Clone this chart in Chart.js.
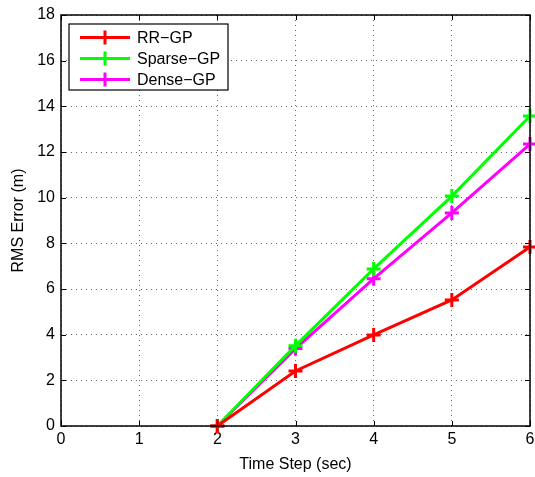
<!DOCTYPE html>
<html><head><meta charset="utf-8">
<script src="https://cdn.jsdelivr.net/npm/chart.js@4"></script>
<style>html,body{margin:0;padding:0;background:#fff}#wrap{width:535px;height:477px}</style>
</head><body><div id="wrap"><canvas id="c" width="535" height="477"></canvas></div>
<script>
const timeSteps = [2, 3, 4, 5, 6];
const rrGP = [0, 2.41, 3.99, 5.52, 7.84];
const sparseGP = [0, 3.52, 6.88, 10.07, 13.58];
const denseGP = [0, 3.39, 6.45, 9.33, 12.35];
const xTicks = [0, 1, 2, 3, 4, 5, 6];
const yTicks = [0, 2, 4, 6, 8, 10, 12, 14, 16, 18];
const seriesNames = ['RR\u2212GP', 'Sparse\u2212GP', 'Dense\u2212GP'];
const seriesColors = ['#ff0000', '#00ff00', '#ff00ff'];
const FONT = 'Liberation Sans, Arial, sans-serif';

function pts(ys){ return timeSteps.map((x,i)=>({x:x, y:ys[i]})); }
const allSeries = [rrGP, sparseGP, denseGP];
const datasets = allSeries.map((s,i)=>({
  label: seriesNames[i], data: pts(s), borderColor: seriesColors[i], backgroundColor: seriesColors[i],
  borderWidth: 3, pointStyle: 'cross', pointRadius: 7, pointBorderWidth: 3, pointHoverRadius: 7,
  tension: 0, fill: false, clip: 10
}));

const frame = {
  id: 'frame',
  afterDatasetsDraw(chart){
    const {ctx, chartArea:a, scales:{x, y}} = chart;
    ctx.save();
    ctx.strokeStyle = '#000'; ctx.lineWidth = 1;
    ctx.beginPath();
    const tl = 5;
    xTicks.forEach(v=>{ const px = Math.round(x.getPixelForValue(v))+0.5;
      ctx.moveTo(px, a.bottom); ctx.lineTo(px, a.bottom - tl);
      ctx.moveTo(px, a.top); ctx.lineTo(px, a.top + tl); });
    yTicks.forEach(v=>{ const py = Math.round(y.getPixelForValue(v))+0.5;
      ctx.moveTo(a.left, py); ctx.lineTo(a.left + tl, py);
      ctx.moveTo(a.right, py); ctx.lineTo(a.right - tl, py); });
    ctx.stroke();
    ctx.lineWidth = 1.5;
    ctx.strokeRect(a.left, a.top, a.right - a.left, a.bottom - a.top);
    // legend
    const lx = a.left + 8, ly = a.top + 9, lw = 159, lh = 66;
    ctx.fillStyle = '#fff'; ctx.fillRect(lx, ly, lw, lh);
    ctx.lineWidth = 1.2; ctx.strokeStyle = '#000'; ctx.strokeRect(lx, ly, lw, lh);
    ctx.font = '16px ' + FONT; ctx.textBaseline = 'middle'; ctx.textAlign = 'left';
    seriesNames.forEach((n,i)=>{
      const yy = ly + 13.5 + i*21;
      ctx.strokeStyle = seriesColors[i]; ctx.lineWidth = 3;
      ctx.beginPath(); ctx.moveTo(lx + 11, yy); ctx.lineTo(lx + 61, yy);
      ctx.moveTo(lx + 36, yy - 7); ctx.lineTo(lx + 36, yy + 7); ctx.stroke();
      ctx.fillStyle = '#000'; ctx.fillText(n, lx + 68, yy + 1);
    });
    ctx.restore();
  }
};

new Chart(document.getElementById('c'), {
  type: 'line',
  data: { datasets },
  options: {
    responsive: false, animation: false, devicePixelRatio: 1,
    layout: { autoPadding: false, padding: { left: 0, top: 15, right: 5, bottom: 0 } },
    plugins: { legend: { display: false }, tooltip: { enabled: false } },
    scales: {
      x: { type: 'linear', min: 0, max: 6,
        afterBuildTicks(s){ s.ticks = xTicks.map(v=>({value:v})); },
        afterFit(s){ s.height = 51; s.paddingLeft = 0; s.paddingRight = 0; },
        grid: { color: '#666', lineWidth: 1, drawTicks: false },
        border: { display: false, dash: [1, 4] },
        ticks: { color: '#000', font: { family: FONT, size: 16 }, padding: 4, maxRotation: 0 },
        title: { display: true, text: 'Time Step (sec)', color: '#000', font: { family: FONT, size: 16 }, padding: { top: 0, bottom: 3 } }
      },
      y: { type: 'linear', min: 0, max: 18,
        afterBuildTicks(s){ s.ticks = yTicks.map(v=>({value:v})); },
        afterFit(s){ s.width = 61; s.paddingTop = 0; s.paddingBottom = 0; },
        grid: { color: '#666', lineWidth: 1, drawTicks: false },
        border: { display: false, dash: [1, 4] },
        ticks: { color: '#000', font: { family: FONT, size: 16 }, padding: 6 },
        title: { display: true, text: 'RMS Error (m)', color: '#000', font: { family: FONT, size: 16 }, padding: { top: 9, bottom: 2 } }
      }
    }
  },
  plugins: [frame]
});
</script></body></html>
